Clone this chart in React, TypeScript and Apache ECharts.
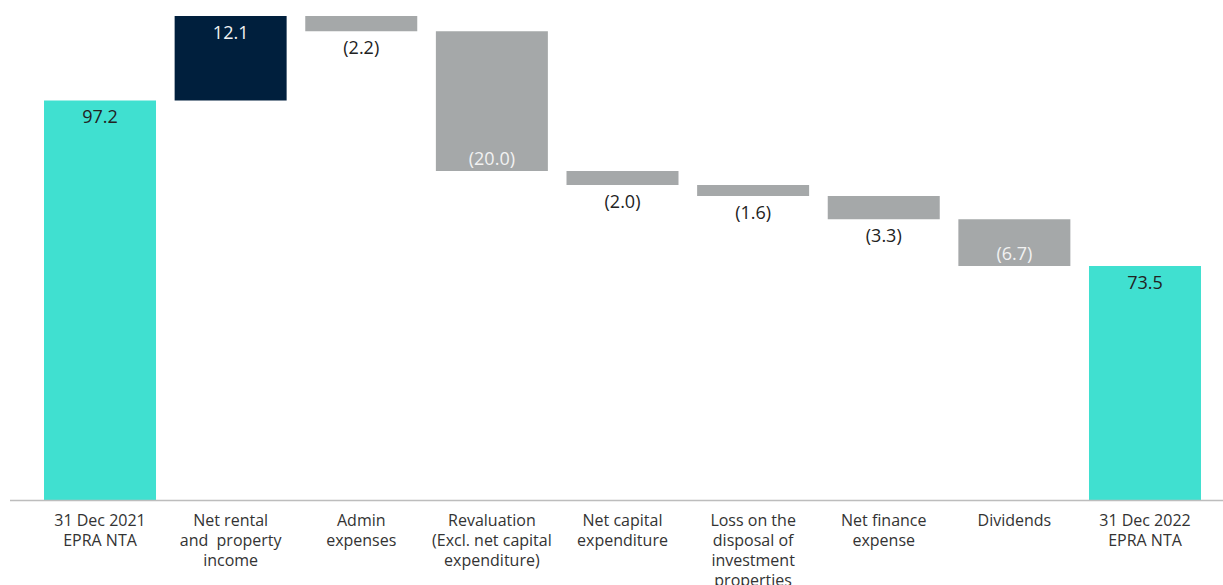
import React, { useEffect, useRef } from "react";
import * as echarts from "echarts";

const categories = [
  "31 Dec 2021\nEPRA NTA",
  "Net rental\nand  property\nincome",
  "Admin\nexpenses",
  "Revaluation\n(Excl. net capital\nexpenditure)",
  "Net capital\nexpenditure",
  "Loss on the\ndisposal of\ninvestment\nproperties",
  "Net finance\nexpense",
  "Dividends",
  "31 Dec 2022\nEPRA NTA",
];
const baseValues = [0, 97.2, 107.1, 87.1, 85.1, 83.5, 80.2, 73.5, 0];
const barValues = [97.2, 12.1, 2.2, 20.0, 2.0, 1.6, 3.3, 6.7, 73.5];
const labelTexts = ["97.2", "12.1", "(2.2)", "(20.0)", "(2.0)", "(1.6)", "(3.3)", "(6.7)", "73.5"];
const kinds = ["total", "up", "down", "down", "down", "down", "down", "down", "total"];

const TEAL = "#40E0D0";
const NAVY = "#001F3D";
const GREY = "#A5A8A9";

export default function App() {
  const ref = useRef<HTMLDivElement>(null);
  useEffect(() => {
    if (!ref.current) return;
    const chart = echarts.init(ref.current, undefined, { renderer: "svg" });
    const data = barValues.map((v, i) => {
      const kind = kinds[i];
      const color = kind === "total" ? TEAL : kind === "up" ? NAVY : GREY;
      const big = v >= 5;
      let label: any;
      if (kind === "total") {
        label = { position: "insideTop", distance: 7, color: "#222" };
      } else if (kind === "up") {
        label = { position: "insideTop", distance: 7, color: "#f2f2f2" };
      } else if (big) {
        label = { position: "insideBottom", distance: 4, color: "#f2f2f2" };
      } else {
        label = { position: "bottom", distance: 7, color: "#222" };
      }
      return { value: v, itemStyle: { color }, label };
    });
    chart.setOption({
      animation: false,
      grid: { left: 34.7, right: 12.7, top: 11, bottom: 85, outerBoundsMode: "none", containLabel: false },
      xAxis: {
        type: "category",
        data: categories,
        axisLine: { show: false },
        axisTick: { show: false },
        axisLabel: {
          interval: 0,
          margin: 10,
          fontFamily: "Open Sans",
          fontSize: 16,
          lineHeight: 20,
          color: "#333",
        },
      },
      yAxis: {
        type: "value",
        min: 40,
        max: 110,
        show: false,
        splitLine: { show: false },
      },
      graphic: [
        {
          type: "line",
          shape: { x1: 10, y1: 500.5, x2: 1223, y2: 500.5 },
          style: { stroke: "#BDBDBD", lineWidth: 1.5 },
          z: 10,
        },
      ],
      series: [
        {
          type: "bar",
          stack: "w",
          data: baseValues,
          itemStyle: { color: "transparent" },
          barWidth: 112,
          silent: true,
        },
        {
          type: "bar",
          stack: "w",
          data,
          barWidth: 112,
          label: {
            show: true,
            fontFamily: "Open Sans",
            fontSize: 18,
            formatter: (p: any) => labelTexts[p.dataIndex],
          },
        },
      ],
    });
    return () => chart.dispose();
  }, []);
  return (
    <div
      ref={ref}
      style={{ position: "absolute", left: 0, top: 0, width: 1223, height: 585, background: "#fff" }}
    />
  );
}
